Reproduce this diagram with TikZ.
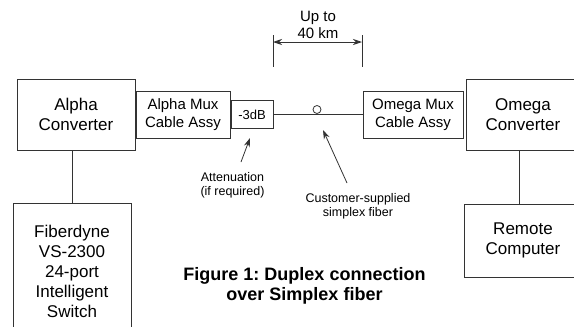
\documentclass[tikz,border=0pt]{standalone}
\usepackage{fontspec}
\setmainfont{Liberation Sans}
\usetikzlibrary{arrows.meta}
\frenchspacing
\begin{document}
\begin{tikzpicture}[x=1pt,y=-1pt,
  line/.style={draw=black!80,line width=0.8pt},
  box/.style={line,rectangle,inner sep=0pt,align=center,font=\fontsize{17}{20}\selectfont},
  muxbox/.style={line,rectangle,inner sep=0pt,align=center,font=\fontsize{15}{18}\selectfont},
  lbl/.style={inner sep=0pt,align=center,font=\fontsize{12.5}{14}\selectfont},
  arr/.style={line,-{Stealth[length=9pt,width=6pt]}}
]
\clip (0,0) rectangle (574,327);
\fill[white] (0,0) rectangle (574,327);
% boxes
\node[box,minimum width=118pt,minimum height=71pt] (ac) at (76,114.5) {Alpha\\Converter};
\node[muxbox,minimum width=94pt,minimum height=47pt] (am) at (183,114.5) {Alpha Mux\\Cable Assy};
\node[line,rectangle,inner sep=0pt,minimum width=42pt,minimum height=28pt,font=\fontsize{13}{15}\selectfont] (att) at (252,114.5) {-3dB};
\node[muxbox,minimum width=100pt,minimum height=47pt] (om) at (413,114.5) {Omega Mux\\Cable Assy};
\node[box,minimum width=114pt,minimum height=71pt] (oc) at (523,114.5) {Omega\\Converter};
\node[box,minimum width=118pt,minimum height=136pt] (fib) at (72,271) {Fiberdyne\\VS-2300\\24-port\\Intelligent\\Switch};
\node[box,minimum width=118pt,minimum height=73pt] (rc) at (523,240.5) {Remote\\Computer};
% connections
\draw[line] (fib.north) -- (fib.north |- ac.south);
\coordinate (rctop) at (519,204);
\draw[line] (rctop) -- (rctop |- oc.south);
\draw[line] (att.east) -- (att.east -| om.west);
\node[line,circle,inner sep=0pt,minimum size=8pt] (knot) at (317,109.5) {};
% dimension
\coordinate (d1t) at (273,35);
\coordinate (d1b) at (273,67);
\coordinate (d2t) at (362,35);
\coordinate (d2b) at (362,67);
\draw[line] (d1t) -- (d1b);
\draw[line] (d2t) -- (d2b);
\coordinate (a1) at (273,42);
\coordinate (a2) at (362,42);
\draw[line,{Stealth[length=9pt,width=6pt]}-{Stealth[length=9pt,width=6pt]}] (a1) -- (a2);
\node[inner sep=0pt,align=center,font=\fontsize{15}{17}\selectfont] (dist) at (318,24.5) {Up to\\40 km};
% labels with arrows
\node[lbl] (attl) at (232.5,185.5) {Attenuation\\(if required)};
\coordinate (atail) at (241,162);
\coordinate (ahead) at (250,138);
\draw[arr] (atail) -- (ahead);
\node[lbl] (custl) at (358,206.5) {Customer-supplied\\simplex fiber};
\coordinate (ctail) at (347,183);
\coordinate (chead) at (323,130);
\draw[arr] (ctail) -- (chead);
% caption
\node[inner sep=0pt,align=center,font=\fontsize{18}{20}\selectfont\bfseries] (cap) at (304.5,285.5) {Figure 1: Duplex connection\\over Simplex fiber};
\end{tikzpicture}
\end{document}
